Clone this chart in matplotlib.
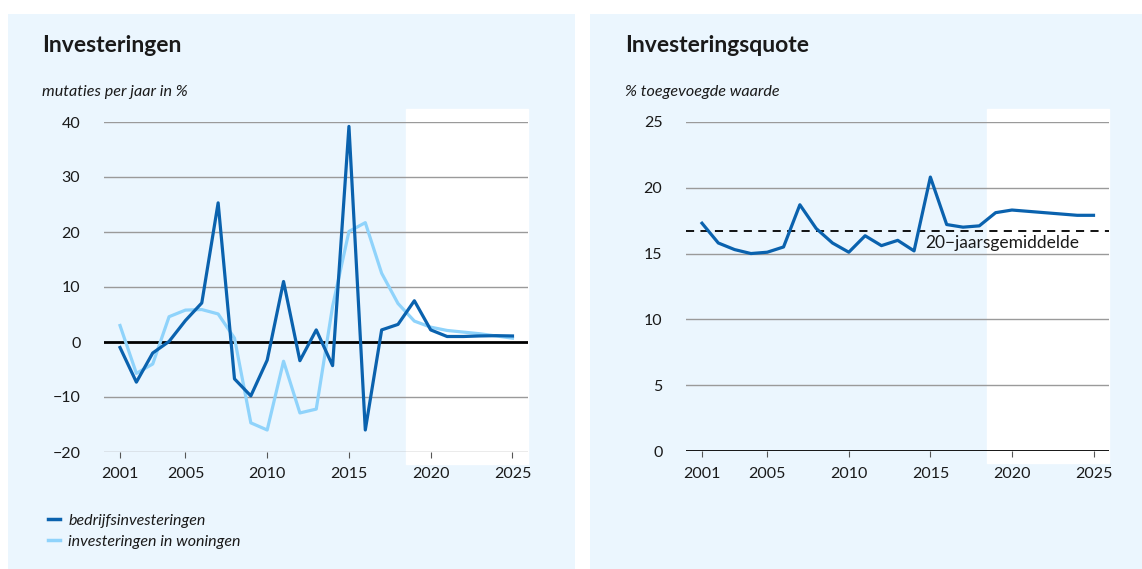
import numpy as np
import matplotlib.pyplot as plt
from matplotlib.patches import Rectangle
from matplotlib.lines import Line2D

plt.rcParams['font.family'] = ['Lato', 'DejaVu Sans']

jaren = list(range(2001, 2026))

bedrijf = [-1.0, -7.3, -2.0, 0.1, 3.9, 7.1, 25.3, -6.7, -9.8, -3.3, 11.0, -3.4, 2.2,
           -4.3, 39.2, -16.0, 2.2, 3.2, 7.5, 2.2, 1.0, 1.0, 1.1, 1.15, 1.1]
woningen = [3.0, -5.7, -4.0, 4.6, 5.8, 5.9, 5.1, 0.7, -14.7, -16.0, -3.5, -12.9, -12.2,
            6.5, 20.1, 21.7, 12.5, 7.0, 3.8, 2.7, 2.1, 1.8, 1.5, 1.1, 0.7]
quote = [17.3, 15.8, 15.3, 15.0, 15.1, 15.5, 18.7, 16.9, 15.8, 15.1, 16.35, 15.6, 16.0,
         15.2, 20.8, 17.2, 17.0, 17.1, 18.1, 18.3, 18.2, 18.1, 18.0, 17.9, 17.9]
gemiddelde = 16.7
prognose_start = 2018.5

xticks = [2001, 2005, 2010, 2015, 2020, 2025]

W, H = 1142, 569
bg = '#ebf6fe'
donker = '#0a62ae'
licht = '#8fd3fb'
grijs = '#9a9a9a'
tekst = '#1a1a1a'

fig = plt.figure(figsize=(W / 100, H / 100), dpi=100)
fig.patch.set_facecolor('white')

# panel backgrounds
fig.patches.append(Rectangle((8 / W, 0), 567 / W, 555 / H, transform=fig.transFigure,
                             facecolor=bg, edgecolor='none', zorder=-1))
fig.patches.append(Rectangle((590 / W, 0), 552 / W, 555 / H, transform=fig.transFigure,
                             facecolor=bg, edgecolor='none', zorder=-1))


def opmaak(ax, ylim, yticks):
    ax.set_facecolor('none')
    for s in ax.spines.values():
        s.set_visible(False)
    ax.set_xlim(2000.02, 2025.95)
    ax.set_ylim(*ylim)
    ax.axvspan(prognose_start, 2025.95, ymin=-0.036, ymax=1.039, color='white',
               zorder=0, clip_on=False)
    for y in yticks:
        if y == 0:
            continue
        ax.axhline(y, color=grijs, lw=1.0, zorder=1)
    ax.axhline(0, color='black', lw=2.0, zorder=3)
    ax.set_yticks(yticks)
    ax.set_yticklabels([str(y).replace('-', '\u2212') for y in yticks])
    ax.set_xticks(xticks)
    ax.tick_params(axis='y', length=0, pad=17, labelsize=11.5, labelcolor=tekst)
    ax.tick_params(axis='x', length=4, width=0.8, color='#555555', pad=7,
                   labelsize=11.5, labelcolor=tekst)


# left chart
ax1 = fig.add_axes([104 / W, 117 / H, 424 / W, 330 / H])
opmaak(ax1, (-20, 40), [-20, -10, 0, 10, 20, 30, 40])
ax1.plot(jaren, bedrijf, color=donker, lw=2.3, zorder=5)
ax1.plot(jaren, woningen, color=licht, lw=2.3, zorder=4)

# right chart
ax2 = fig.add_axes([686 / W, 117.7 / H, 423 / W, 329.6 / H])
opmaak(ax2, (0, 25), [0, 5, 10, 15, 20, 25])
ax2.plot(jaren, quote, color=donker, lw=2.3, zorder=5)
ax2.axhline(gemiddelde, color='black', lw=1.3, ls=(0, (4.5, 3.5)), zorder=4)
ax2.text(2014.7, gemiddelde - 0.3, '20\u2212jaarsgemiddelde', ha='left', va='top',
         fontsize=12.5, color=tekst)

# titles
fig.text(42 / W, 1 - 46 / H, 'Investeringen', fontsize=16.5, fontweight='bold',
         color=tekst, va='center')
fig.text(42 / W, 1 - 92 / H, 'mutaties per jaar in %', fontsize=11.6, style='italic',
         color=tekst, va='center')
fig.text(625 / W, 1 - 46 / H, 'Investeringsquote', fontsize=16.5, fontweight='bold',
         color=tekst, va='center')
fig.text(625 / W, 1 - 92 / H, '% toegevoegde waarde', fontsize=11.6, style='italic',
         color=tekst, va='center')

# legend
handles = [Line2D([], [], color=donker, lw=2.5),
           Line2D([], [], color=licht, lw=2.5)]
leg = fig.legend(handles, ['bedrijfsinvesteringen', 'investeringen in woningen'],
                 loc='upper left', bbox_to_anchor=(34 / W, 1 - 499 / H), frameon=False,
                 handlelength=0.75, handletextpad=0.5, labelspacing=0.45,
                 prop={'size': 11.5, 'style': 'italic'})
for t in leg.get_texts():
    t.set_color(tekst)

fig.savefig('out.png', dpi=100, facecolor='white')
